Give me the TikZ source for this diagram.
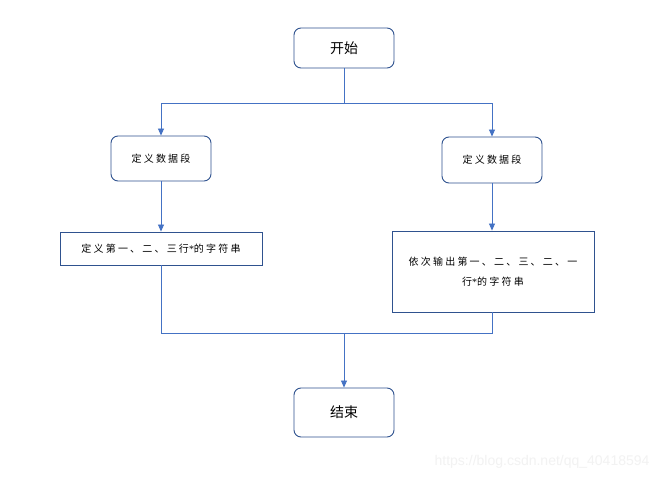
\documentclass[tikz,border=0pt]{standalone}
\usepackage{fontspec}
\setmainfont{Liberation Sans}
\newfontfamily\cjk[LetterSpace=22]{Noto Sans CJK SC}
\newfontfamily\cjkbig{Noto Sans CJK SC}
\newfontfamily\latinast{Liberation Serif}
\newcommand{\myast}{{\latinast *}}
\usetikzlibrary{arrows.meta}
\definecolor{boxline}{HTML}{2F528F}
\definecolor{conn}{HTML}{4472C4}
\begin{document}
\begin{tikzpicture}[x=1pt,y=-1pt,
  roundbox/.style={draw=boxline,line width=0.9pt,rounded corners=7pt,fill=white,inner sep=0pt},
  rectbox/.style={draw=boxline,line width=0.9pt,fill=white,inner sep=0pt},
  conline/.style={draw=conn,line width=0.8pt},
  arr/.style={conline,-{Triangle[length=7pt,width=6pt]}},
  smalltxt/.style={font=\cjk\fontsize{10}{20}\selectfont,align=center},
  bigtxt/.style={font=\cjkbig\fontsize{14}{16}\selectfont}]
\useasboundingbox (0,0) rectangle (662,479);
\fill[white] (0,0) rectangle (662,479);
% nodes
\node[roundbox,minimum width=100pt,minimum height=40pt,bigtxt] (start) at (344,48) {开始};
\node[roundbox,minimum width=100pt,minimum height=45pt,smalltxt] (l1) at (161,158.5) {定义数据段};
\node[roundbox,minimum width=100pt,minimum height=46pt,smalltxt] (r1) at (492,160) {定义数据段};
\node[rectbox,minimum width=202pt,minimum height=33pt,smalltxt] (l2) at (161,248.5) {定义第一、二、三行\myast 的字符串};
\node[rectbox,minimum width=202pt,minimum height=81pt,smalltxt] (r2) at (493,271.5) {依次输出第一、二、三、二、一\\行\myast 的字符串};
\node[roundbox,minimum width=100pt,minimum height=49pt,bigtxt] (end) at (344,412.5) {结束};
% coordinates
\coordinate (split) at (344,103);
\coordinate (splitl) at (161,103);
\coordinate (splitr) at (492,103);
\coordinate (join) at (344,333);
\coordinate (joinl) at (161,333);
\coordinate (joinr) at (492,333);
% connectors
\draw[conline] (start.south) -- (split);
\draw[conline] (splitl) -- (splitr);
\draw[arr] (splitl) -- (l1.north);
\draw[arr] (splitr) -- (r1.north);
\draw[arr] (l1.south) -- (l2.north);
\draw[arr] (r1.south) -- (r2.north -| r1.south);
\draw[conline] (l2.south) -- (joinl) -- (joinr) -- (r2.south -| joinr);
\draw[arr] (join) -- (end.north);
% watermark
\node[text=black!5,font=\fontsize{14}{16}\selectfont,anchor=east] (wm) at (653,462) {https://blog.csdn.net/qq\_40418594};
\end{tikzpicture}
\end{document}
